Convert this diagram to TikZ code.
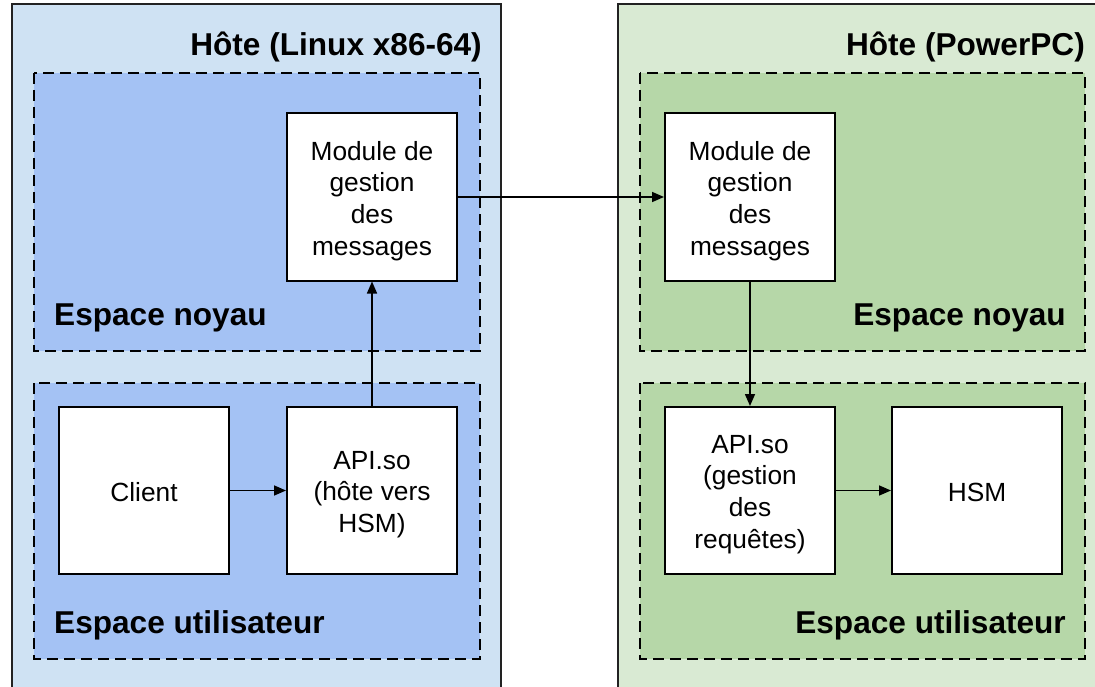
\documentclass[tikz,border=0pt]{standalone}
\usepackage{fontspec}
\setmainfont{Liberation Sans}
\usetikzlibrary{arrows.meta}
\definecolor{hostblue}{HTML}{CFE2F3}
\definecolor{spaceblue}{HTML}{A4C2F4}
\definecolor{hostgreen}{HTML}{D9EAD3}
\definecolor{spacegreen}{HTML}{B6D7A8}
\definecolor{rim}{HTML}{222222}
\tikzset{
  host/.style={draw=rim, line width=2pt},
  space/.style={draw=black, line width=2pt, dash pattern=on 11pt off 6pt},
  unit/.style={draw=black, line width=2pt, fill=white, inner sep=0pt,
    minimum width=170pt, minimum height=167pt},
  unittext/.style={inner sep=0pt, align=center, yshift=-4pt,
    font=\fontsize{26.3}{31.7}\selectfont},
  title/.style={inner sep=0pt, font=\fontsize{31.6}{38}\selectfont\bfseries},
  flow/.style={line width=1.6pt, -{Triangle[length=12pt,width=10pt]}},
}
\begin{document}
\begin{tikzpicture}[x=1pt, y=-1pt]
\useasboundingbox (0,0) rectangle (1095,687);
\clip (0,0) rectangle (1095,687);

% left host and its two spaces
\draw[host, fill=hostblue] (12,4) rectangle (501,720);
\draw[space, fill=spaceblue] (34,73) rectangle (480,351);
\draw[space, fill=spaceblue] (34,383) rectangle (480,659);

% right host and its two spaces
\draw[host, fill=hostgreen] (618,4) rectangle (1120,720);
\draw[space, fill=spacegreen] (640,73) rectangle (1085,351);
\draw[space, fill=spacegreen] (640,383) rectangle (1085,659);

% labels
\node[title, anchor=base east] (tl) at (482,56) {Hôte (Linux x86-64)};
\node[title, anchor=base east] (tr) at (1085,56) {Hôte (PowerPC)};
\node[title, anchor=base west] (knl) at (54,325) {Espace noyau};
\node[title, anchor=base west] (usl) at (54,633) {Espace utilisateur};
\node[title, anchor=base east] (knr) at (1066,325) {Espace noyau};
\node[title, anchor=base east] (usr) at (1066,633) {Espace utilisateur};

% components
\node[unit] (modl) at (372,197) {};
\node[unit] (client) at (144,490.5) {};
\node[unit] (apil) at (372,490.5) {};
\node[unit] (modr) at (750,197) {};
\node[unit] (apir) at (750,490.5) {};
\node[unit] (hsm) at (977,490.5) {};

\node[unittext] (modlt) at (modl.center) {Module de\\gestion\\des\\messages};
\node[unittext, yshift=2pt] (clientt) at (client.center) {Client};
\node[unittext] (apilt) at (apil.center) {API.so\\(hôte vers\\HSM)};
\node[unittext] (modrt) at (modr.center) {Module de\\gestion\\des\\messages};
\node[unittext] (apirt) at (apir.center) {API.so\\(gestion\\des\\requêtes)};
\node[unittext, yshift=2pt] (hsmt) at (hsm.center) {HSM};

% message flow
\draw[flow] (client) -- (apil);
\draw[flow] (apil) -- (modl);
\draw[flow] (modl) -- (modr);
\draw[flow] (modr) -- (apir);
\draw[flow] (apir) -- (hsm);
\end{tikzpicture}
\end{document}
